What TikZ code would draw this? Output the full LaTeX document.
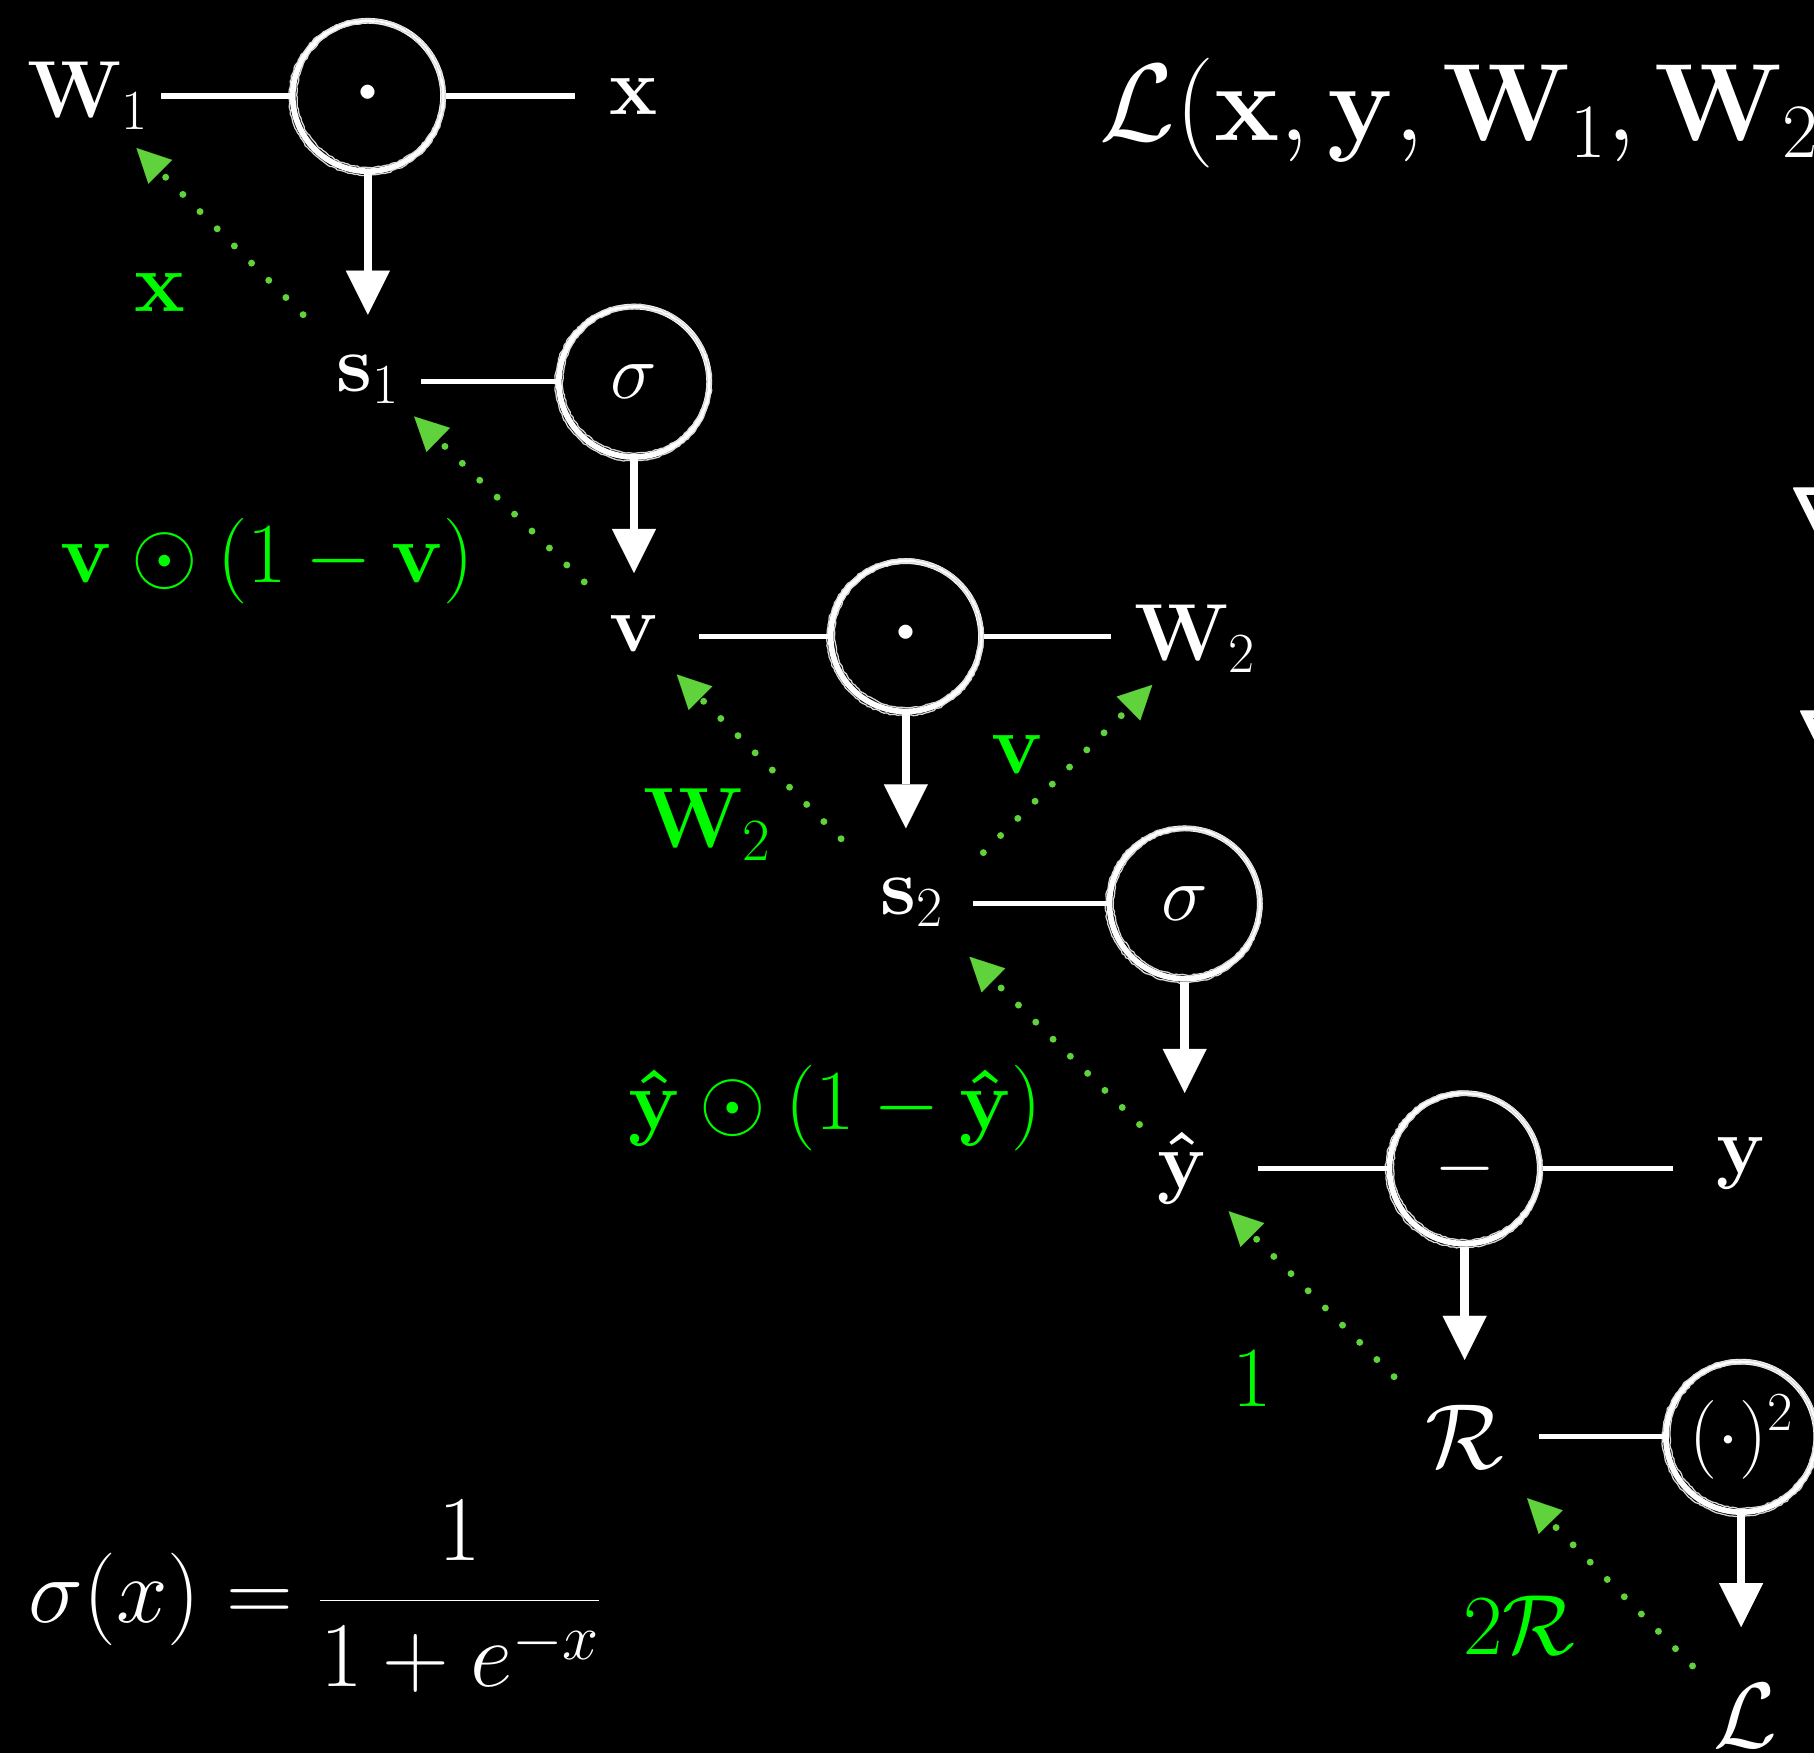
\RequirePackage{fix-cm}
\documentclass[tikz,border=0pt]{standalone}
\usetikzlibrary{arrows.meta,calc,decorations.pathmorphing}
\definecolor{gdot}{RGB}{95,210,60}
\definecolor{glab}{RGB}{0,250,0}
\tikzset{
 lbl/.style={text=white, inner sep=0pt, font=\fontsize{70}{84}\selectfont},
 biglbl/.style={text=white, inner sep=0pt, font=\fontsize{80}{96}\selectfont},
 glbl/.style={text=glab, inner sep=0pt, font=\fontsize{74}{88}\selectfont},
 opc/.style={circle, draw=white, line width=5pt, minimum size=130pt, inner sep=0pt, text=white, font=\fontsize{68}{82}\selectfont},
 dotop/.style={opc, font=\fontsize{115}{130}\selectfont},
 link/.style={draw=white, line width=4.5pt},
 fwd/.style={draw=white, line width=7.5pt, -{Triangle[length=38pt,width=38pt,line width=0.1pt]}},
 back/.style={draw=gdot, line width=6pt, line cap=round, dash pattern=on 0pt off 21pt, -{Triangle[length=29pt,width=29pt,line width=0.1pt]}},
 chalk/.style={draw=white!85!black, line width=1.1pt, decorate, decoration={random steps, segment length=2.5pt, amplitude=0.6pt}},
 formula/.style={text=white, inner sep=0pt},
}
\newcommand{\chalkring}[1]{%
 \draw[chalk] ([shift={(1.0,-0.8)}]#1.center) circle (62.5pt);
 \draw[chalk] ([shift={(-0.7,0.9)}]#1.center) circle (67.5pt);
}
\begin{document}
\begin{tikzpicture}[x=1pt,y=-1pt]
\pgfmathsetseed{7}
\useasboundingbox (0,0) rectangle (1568,1515);
\clip (0,0) rectangle (1568,1515);
\fill[black] (0,0) rectangle (1568,1515);

% nodes
\node[lbl] (W1) at (76,83) {$\mathbf{W}_1$};
\node[dotop] (c1) at (318,83) {$\cdot$};
\node[lbl] (x) at (548,83) {$\mathbf{x}$};
\node[lbl] (s1) at (318,328) {$\mathbf{s}_1$};
\node[opc] (c2) at (548,330) {$\sigma$};
\node[lbl] (v) at (548,548) {$\mathbf{v}$};
\node[dotop] (c3) at (783,550) {$\cdot$};
\node[lbl] (W2) at (1033,552) {$\mathbf{W}_2$};
\node[lbl] (s2) at (788,780) {$\mathbf{s}_2$};
\node[opc] (c4) at (1024,781) {$\sigma$};
\node[lbl] (yh) at (1022,1010) {$\mathbf{\hat{y}}$};
\node[opc] (c5) at (1266,1010) {$-$};
\node[lbl] (y) at (1505,1006) {$\mathbf{y}$};
\node[biglbl] (R) at (1266,1242) {$\mathcal{R}$};
\node[opc] (c6) at (1505,1242) {$(\cdot)^2$};
\node[biglbl] (L) at (1509,1483) {$\mathcal{L}$};

\chalkring{c1}\chalkring{c2}\chalkring{c3}\chalkring{c4}\chalkring{c5}\chalkring{c6}

% horizontal links
\draw[link, shorten <=11pt] (W1.east) -- (c1.west);
\draw[link, shorten >=30pt] (c1.east) -- (x.west);
\draw[link, shorten <=19pt] (c2.west -| s1.east) -- (c2.west);
\draw[link, shorten <=35pt] (c3.west -| v.east) -- (c3.west);
\draw[link, shorten >=20pt] (c3.east) -- (c3.east -| W2.west);
\draw[link, shorten <=26pt] (c4.west -| s2.east) -- (c4.west);
\draw[link, shorten <=44pt] (c5.west -| yh.east) -- (c5.west);
\draw[link, shorten >=37pt] (c5.east) -- (c5.east -| y.west);
\draw[link, shorten <=30pt] (c6.west -| R.east) -- (c6.west);

% forward arrows
\draw[fwd, shorten >=35pt] (c1.south) -- (c1.south |- s1.north);
\draw[fwd, shorten >=37pt] (c2.south) -- (c2.south |- v.north);
\draw[fwd, shorten >=43pt] (c3.south) -- (c3.south |- s2.north);
\draw[fwd, shorten >=34pt] (c4.south) -- (c4.south |- yh.north);
\draw[fwd, shorten >=39pt] (c5.south) -- (c5.south |- R.north);
\draw[fwd, shorten >=49pt] (c6.south) -- (c6.south |- L.north);

% backward (gradient) arrows
\draw[back] ($(s1)+(-56,-56)$) -- ($(W1)+(42,45)$);
\draw[back] ($(v)+(-43,-45)$) -- ($(s1)+(40,32)$);
\draw[back] ($(s2)+(-61,-55)$) -- ($(v)+(37,35)$);
\draw[back] ($(s2)+(62,-43)$) -- ($(W2)+(-37,40)$);
\draw[back] ($(yh)+(-37,-38)$) -- ($(s2)+(50,47)$);
\draw[back] ($(R)+(-61,-52)$) -- ($(yh)+(40,37)$);
\draw[back] ($(L)+(-46,-43)$) -- ($(R)+(54,53)$);

% gradient labels
\node[glbl] (g1) at (138,253) {$\mathbf{x}$};
\node[glbl] (g2) at (231,485) {$\mathbf{v}\odot(1-\mathbf{v})$};
\node[glbl] (g3) at (611,713) {$\mathbf{W}_2$};
\node[glbl] (g4) at (880,652) {$\mathbf{v}$};
\node[glbl] (g5) at (722,958) {$\mathbf{\hat{y}}\odot(1-\mathbf{\hat{y}})$};
\node[glbl] (g6) at (1082,1192) {$1$};
\node[glbl] (g7) at (1313,1405) {$2\mathcal{R}$};

% formulas
\node[formula, font=\fontsize{80}{96}\selectfont] (sig) at (272,1380) {$\displaystyle\sigma(x)=\frac{1}{1+e^{-x}}$};
\node[formula, anchor=west, font=\fontsize{95}{114}\selectfont] (loss) at (950,98) {$\mathcal{L}(\mathbf{x},\mathbf{y},\mathbf{W}_1,\mathbf{W}_2)$};
\node[formula, anchor=north west, font=\fontsize{92}{110}\selectfont] (n1) at (1546,421) {$\nabla$};
\node[formula, anchor=north west, font=\fontsize{92}{110}\selectfont] (n2) at (1552,614) {$\nabla$};
\end{tikzpicture}
\end{document}
